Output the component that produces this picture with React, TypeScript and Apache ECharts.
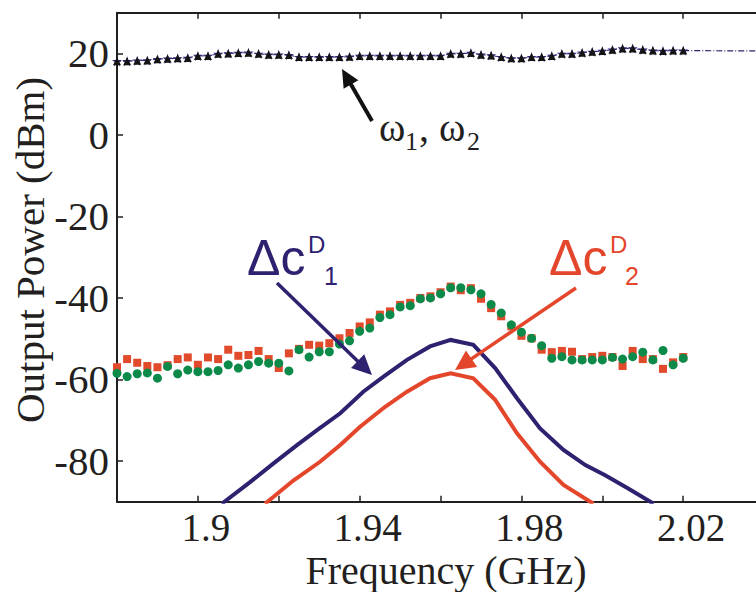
import React, { useEffect, useRef } from "react";
import * as echarts from "echarts";

// ---- data ----
const freqGrid = [
  1.88, 1.8825, 1.885, 1.8875, 1.89, 1.8925, 1.895, 1.8975, 1.9, 1.9025,
  1.905, 1.9075, 1.91, 1.9125, 1.915, 1.9175, 1.92, 1.9225, 1.925, 1.9275,
  1.93, 1.9325, 1.935, 1.9375, 1.94, 1.9425, 1.945, 1.9475, 1.95, 1.9525,
  1.955, 1.9575, 1.96, 1.9625, 1.965, 1.9675, 1.97, 1.9725, 1.975, 1.9775,
  1.98, 1.9825, 1.985, 1.9875, 1.99, 1.9925, 1.995, 1.9975, 2.0, 2.0025,
  2.005, 2.0075, 2.01, 2.0125, 2.015, 2.0175, 2.02,
];
const omegaPower = [
  18.1, 18.1, 18.2, 18.3, 18.6, 18.7, 18.8, 18.9, 19.4, 19.4,
  19.9, 20.0, 20.1, 20.2, 19.9, 19.7, 19.7, 19.6, 19.1, 19.1,
  19.1, 19.1, 19.1, 19.2, 19.4, 19.4, 19.4, 19.4, 19.4, 19.4,
  19.4, 19.4, 19.4, 19.9, 19.9, 20.1, 19.7, 19.5, 19.1, 18.8,
  18.8, 19.1, 19.1, 19.4, 19.9, 19.9, 20.2, 20.4, 20.6, 20.9,
  21.2, 21.2, 20.9, 20.7, 20.6, 20.7, 20.7,
];
const redSquarePower = [
  -57.0, -55.0, -55.9, -56.7, -57.0, -56.5, -55.0, -54.6, -56.4, -54.6,
  -55.0, -52.7, -54.2, -54.0, -53.0, -55.0, -57.2, -53.6, -52.5, -51.5,
  -51.7, -51.1, -49.9, -48.6, -47.0, -46.0, -44.1, -43.3, -41.7, -41.2,
  -40.0, -39.6, -38.6, -37.2, -38.1, -37.6, -40.2, -42.5, -44.5, -47.0,
  -49.3, -49.9, -52.7, -53.3, -53.0, -53.2, -55.0, -54.5, -54.2, -54.5,
  -56.7, -53.0, -55.0, -55.0, -57.4, -55.8, -54.5,
];
const greenCirclePower = [
  -58.5, -59.3, -58.6, -58.4, -59.7, -56.8, -58.6, -57.7, -58.1, -58.1,
  -57.8, -56.4, -57.2, -56.4, -55.6, -56.0, -56.0, -57.9, -52.7, -54.5,
  -53.2, -53.2, -51.3, -50.5, -48.2, -47.4, -44.8, -44.1, -42.2, -41.9,
  -40.2, -40.0, -39.0, -37.5, -37.5, -38.0, -39.0, -41.6, -43.7, -46.6,
  -48.4, -49.9, -51.7, -54.8, -54.4, -55.2, -55.2, -55.2, -55.2, -54.6,
  -55.0, -54.4, -53.3, -55.2, -52.9, -56.4, -54.8,
];
const blueLineFreq = [
  1.9059, 1.9129, 1.9187, 1.9245, 1.9298, 1.9352, 1.9409, 1.9459, 1.9517, 1.9574,
  1.9625, 1.9681, 1.9735, 1.9789, 1.9846, 1.9904, 1.9958, 2.0007, 2.0065, 2.0127,
];
const blueLinePower = [
  -90.5, -85.2, -80.6, -76.1, -72.2, -68.3, -63.0, -59.3, -55.2, -51.9,
  -50.3, -51.5, -57.2, -64.6, -72.0, -77.3, -81.0, -83.5, -86.8, -90.5,
];
const redLineFreq = [
  1.9166, 1.9236, 1.9302, 1.9352, 1.9401, 1.9463, 1.9517, 1.9574, 1.9625, 1.9681,
  1.9735, 1.9789, 1.9846, 1.9904, 1.9978,
];
const redLinePower = [
  -90.5, -84.8, -80.2, -76.1, -71.6, -66.7, -63.0, -59.7, -58.5, -59.7,
  -65.0, -73.2, -80.2, -85.9, -90.5,
];
const omegaTailFreq = [2.02, 2.06];
const omegaTailPower = [20.7, 20.5];
const xLabelValues = [1.9, 1.94, 1.98, 2.02];
const yTickValues = [-80, -60, -40, -20, 0, 20];

// ---- styles ----
const NAVY = "#2e2270";
const RED = "#e4462b";
const SQUARE_RED = "#e24a2c";
const GREEN = "#0b8a4a";
const INK = "#231f20";
const SERIF = '"Liberation Serif", "Times New Roman", serif';
const SANS = '"Liberation Sans", Arial, sans-serif';
const STAR =
  "path://M50,0L61.2,34.5L97.6,34.5L68.2,55.9L79.4,90.5L50,69.1L20.6,90.5L31.8,55.9L2.4,34.5L38.8,34.5Z";

const zip = (xs: number[], ys: number[]) => xs.map((x, i) => [x, ys[i]]);

function arrow(
  tail: [number, number],
  tip: [number, number],
  color: string,
  width: number,
  headLen: number,
  headHalf: number
) {
  const dx = tip[0] - tail[0];
  const dy = tip[1] - tail[1];
  const len = Math.hypot(dx, dy);
  const ux = dx / len;
  const uy = dy / len;
  const bx = tip[0] - ux * headLen;
  const by = tip[1] - uy * headLen;
  const px = -uy;
  const py = ux;
  return [
    {
      type: "line",
      shape: { x1: tail[0], y1: tail[1], x2: bx + ux * 2, y2: by + uy * 2 },
      style: { stroke: color, lineWidth: width },
      z: 100,
    },
    {
      type: "polygon",
      shape: {
        points: [
          [tip[0], tip[1]],
          [bx + px * headHalf, by + py * headHalf],
          [bx - px * headHalf, by - py * headHalf],
        ],
      },
      style: { fill: color },
      z: 100,
    },
  ];
}

function txt(
  x: number,
  y: number,
  text: string,
  size: number,
  family: string,
  color: string,
  extra: any = {}
) {
  return {
    type: "text",
    x,
    y,
    z: 100,
    ...extra,
    style: {
      text,
      fill: color,
      font: `${size}px ${family}`,
      align: "left",
      verticalAlign: "middle",
      textAlign: "left",
      textVerticalAlign: "middle",
      ...(extra.style || {}),
    },
  };
}

export default function App() {
  const ref = useRef<HTMLDivElement>(null);

  useEffect(() => {
    const chart = echarts.init(ref.current!, null, { renderer: "svg" });

    const axisLine = { show: true, onZero: false, lineStyle: { color: INK, width: 2 } };
    const tick = { show: true, inside: true, length: 6, lineStyle: { color: INK, width: 1.5 } };

    chart.setOption({
      animation: false,
      backgroundColor: "#ffffff",
      grid: {
        left: 117,
        top: 12.7,
        width: 728,
        height: 489,
        containLabel: false,
        outerBoundsMode: "none",
      },
      xAxis: [
        {
          type: "value",
          position: "bottom",
          min: 1.88,
          max: 2.06,
          interval: 0.02,
          axisLine,
          axisTick: tick,
          splitLine: { show: false },
          axisLabel: {
            customValues: xLabelValues,
            margin: 6,
            padding: [0, 0, 0, 16],
            color: INK,
            fontFamily: SERIF,
            fontSize: 39,
            formatter: (v: number) => String(Math.round(v * 100) / 100),
          },
        },
        {
          type: "value",
          position: "top",
          min: 1.88,
          max: 2.06,
          interval: 0.02,
          axisLine,
          axisTick: tick,
          splitLine: { show: false },
          axisLabel: { show: false },
        },
      ],
      yAxis: [
        {
          type: "value",
          position: "left",
          min: -90,
          max: 30,
          interval: 10,
          axisLine,
          axisTick: { ...tick, customValues: yTickValues },
          splitLine: { show: false },
          axisLabel: {
            customValues: yTickValues,
            margin: 8,
            color: INK,
            fontFamily: SERIF,
            fontSize: 41,
          },
        },
        {
          type: "value",
          position: "right",
          min: -90,
          max: 30,
          interval: 10,
          axisLine,
          axisTick: { ...tick, customValues: yTickValues },
          splitLine: { show: false },
          axisLabel: { show: false },
        },
      ],
      series: [
        {
          name: "omega tail",
          type: "line",
          data: zip(omegaTailFreq, omegaTailPower),
          symbol: "none",
          lineStyle: { color: NAVY, width: 1.2, type: [6, 2, 1, 2] },
          z: 3,
        },
        {
          name: "omega1",
          type: "line",
          data: zip(freqGrid, omegaPower),
          symbol: STAR,
          symbolSize: 10,
          itemStyle: { color: NAVY, opacity: 1 },
          lineStyle: { color: NAVY, width: 1, type: [4, 2] },
          z: 3,
        },
        {
          name: "omega2",
          type: "scatter",
          data: zip(freqGrid, omegaPower),
          symbol: "triangle",
          symbolSize: 8,
          itemStyle: { color: "#141414", opacity: 1 },
          z: 4,
        },
        {
          name: "red squares",
          type: "scatter",
          data: zip(freqGrid, redSquarePower),
          symbol: "rect",
          symbolSize: 8,
          itemStyle: { color: SQUARE_RED, opacity: 1 },
          z: 3,
        },
        {
          name: "green circles",
          type: "scatter",
          data: zip(freqGrid, greenCirclePower),
          symbol: "circle",
          symbolSize: 9,
          itemStyle: { color: GREEN, opacity: 1 },
          z: 4,
        },
        {
          name: "dc1",
          type: "line",
          data: zip(blueLineFreq, blueLinePower),
          symbol: "none",
          clip: true,
          lineStyle: { color: NAVY, width: 4, join: "miter" },
          z: 5,
        },
        {
          name: "dc2",
          type: "line",
          data: zip(redLineFreq, redLinePower),
          symbol: "none",
          clip: true,
          lineStyle: { color: RED, width: 4, join: "miter" },
          z: 5,
        },
      ],
      graphic: [
        // axis titles
        txt(30, 250, "Output Power (dBm)", 41, SERIF, INK, {
          rotation: Math.PI / 2,
          style: { align: "center", textAlign: "center" },
        }),
        txt(446, 570, "Frequency (GHz)", 40, SERIF, INK, {
          style: { align: "center", textAlign: "center" },
        }),
        // omega annotation
        ...arrow([372, 121], [342, 69], "#111111", 4, 18, 8.5),
        txt(379, 127, "ω", 40, SERIF, INK),
        txt(405, 141, "1", 26, SERIF, INK),
        txt(419, 127, ", ω", 40, SERIF, INK),
        txt(467, 141, "2", 26, SERIF, INK),
        // delta c1 annotation
        ...arrow([277, 283], [372, 375], NAVY, 3.5, 20, 9.5),
        txt(247, 258, "Δc", 50, SANS, NAVY),
        txt(308, 244, "D", 24, SANS, NAVY),
        txt(324, 276, "1", 25, SANS, NAVY),
        // delta c2 annotation
        ...arrow([576, 288], [455, 370], RED, 3.5, 20, 10),
        txt(549, 258, "Δc", 50, SANS, RED),
        txt(610, 244, "D", 24, SANS, RED),
        txt(625, 276, "2", 25, SANS, RED),
      ],
    });

    return () => chart.dispose();
  }, []);

  return (
    <div
      ref={ref}
      style={{ position: "absolute", left: 0, top: 0, width: 756, height: 592 }}
    />
  );
}
